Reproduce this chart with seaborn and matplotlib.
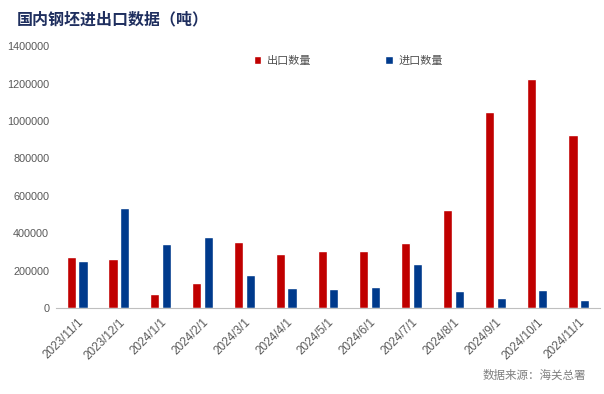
import numpy as np
import pandas as pd
import matplotlib.pyplot as plt
import seaborn as sns

# datos
fechas = ['2023/11/1', '2023/12/1', '2024/1/1', '2024/2/1', '2024/3/1', '2024/4/1', '2024/5/1',
          '2024/6/1', '2024/7/1', '2024/8/1', '2024/9/1', '2024/10/1', '2024/11/1']
exportacion = [272000, 262000, 75000, 134000, 353000, 289000, 305000,
               305000, 347000, 524000, 1047000, 1224000, 925000]
importacion = [251000, 534000, 342000, 379000, 176000, 107000, 102000,
               112000, 235000, 91000, 53000, 96000, 43000]
series = ['出口数量', '进口数量']
colores = ['#C00000', '#003A8C']

df = pd.DataFrame({'fecha': fechas * 2,
                   'valor': exportacion + importacion,
                   'serie': [series[0]] * len(fechas) + [series[1]] * len(fechas)})

sns.set_style('white')
plt.rcParams['font.family'] = ['Noto Sans CJK SC', 'DejaVu Sans']

fig = plt.figure(figsize=(6.04, 3.94), dpi=100)
ax = fig.add_axes([0.093, 0.218, 0.9, 0.665])

sns.barplot(data=df, x='fecha', y='valor', hue='serie', palette=colores,
            width=0.56, gap=0.22, saturation=1, ax=ax, legend=True)

ax.set_ylim(0, 1400000)
ax.set_xlim(-0.5, len(fechas) - 0.5)
ax.set_yticks(np.arange(0, 1400001, 200000))
ax.set_yticklabels([str(v) for v in range(0, 1400001, 200000)], fontsize=7.8,
                   color='#595959', family='Liberation Sans')
ax.set_xticks(range(len(fechas)))
ax.set_xticklabels(fechas, rotation=45, ha='right', rotation_mode='anchor',
                   fontsize=8.5, color='#595959', family='Liberation Sans')
ax.set_xticks(np.arange(-0.5, len(fechas), 1), minor=True)
ax.tick_params(axis='x', which='major', length=0, pad=6)
ax.tick_params(axis='x', which='minor', length=4, color='#BFBFBF', width=0.8, direction='out')
ax.tick_params(axis='y', length=0, pad=5)
ax.set_xlabel('')
ax.set_ylabel('')
for s in ['top', 'right', 'left']:
    ax.spines[s].set_visible(False)
ax.spines['bottom'].set_color('#BFBFBF')
ax.spines['bottom'].set_linewidth(0.8)

ax.legend(loc='center left', bbox_to_anchor=(0.345, 0.943), ncol=2, frameon=False,
          fontsize=8, handlelength=0.7, handleheight=0.7, handletextpad=0.5,
          columnspacing=6.6, labelcolor='#505050')

fig.text(0.028, 0.952, '国内钢坯进出口数据（吨）', fontsize=11.5, fontweight='bold',
         color='#1F2F5F', va='center')
fig.text(0.97, 0.048, '数据来源：海关总署', fontsize=8.3, color='#808080',
         ha='right', va='center')

fig.savefig('out.png', dpi=100)
